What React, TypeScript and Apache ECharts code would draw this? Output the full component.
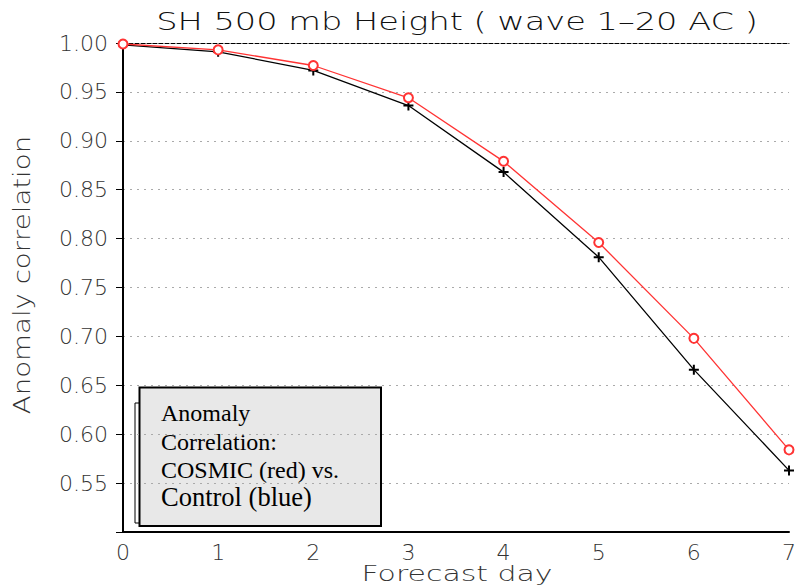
import React, { useEffect, useRef } from "react";
import * as echarts from "echarts";

const days = [0, 1, 2, 3, 4, 5, 6, 7];
const cosmic = [0.999, 0.993, 0.977, 0.944, 0.879, 0.796, 0.698, 0.584];
const control = [0.998, 0.991, 0.972, 0.936, 0.868, 0.781, 0.666, 0.563];
const titleText = "SH 500 mb Height ( wave 1–20 AC )";
const xName = "Forecast day";
const yName = "Anomaly correlation";
const noteLines = ["Anomaly", "Correlation:", "COSMIC (red) vs.", "Control (blue)"];

const FONT = "DejaVu Sans";
const PLUS = "path://M4,0H6V4H10V6H6V10H4V6H0V4H4Z";

export default function App() {
  const ref = useRef<HTMLDivElement>(null);
  useEffect(() => {
    if (!ref.current) return;
    const chart = echarts.init(ref.current, null, { renderer: "svg" });
    const noteY = [413, 441.5, 469.5, 497];
    const noteSize = [24, 24, 24, 26.5];
    chart.setOption({
      animation: false,
      backgroundColor: "#fff",
      grid: { left: 123, right: 1, top: 43, bottom: 54, containLabel: false },
      xAxis: [
        {
          type: "value",
          min: 0,
          max: 7,
          interval: 1,
          axisLine: { show: true, lineStyle: { color: "#000", width: 2 } },
          axisTick: { show: false },
          axisLabel: { fontSize: 22, color: "#333", margin: 9, fontFamily: FONT, fontWeight: 200 },
          splitLine: { show: false },
        },
        {
          type: "value",
          position: "top",
          min: 0,
          max: 7,
          interval: 1,
          axisLine: { show: true, lineStyle: { color: "#000", width: 1, type: [4, 2] } },
          axisTick: { show: false },
          axisLabel: { show: false },
          splitLine: { show: false },
        },
      ],
      yAxis: [
        {
          type: "value",
          min: 0.5,
          max: 1,
          interval: 0.05,
          axisLine: { show: true, lineStyle: { color: "#000", width: 2 } },
          axisTick: { show: true, length: 7, lineStyle: { color: "#000", width: 1 } },
          axisLabel: {
            fontSize: 22,
            color: "#333",
            margin: 15,
            fontFamily: FONT,
            fontWeight: 200,
            formatter: (v: number) => (v < 0.52 ? "" : v.toFixed(2)),
          },
          splitLine: { show: true, lineStyle: { color: "#aaa", width: 1, type: [2, 5] } },
        },
        {
          type: "value",
          position: "right",
          min: 0.5,
          max: 1,
          interval: 0.05,
          axisLine: { show: true, lineStyle: { color: "#000", width: 1 } },
          axisTick: { show: false },
          axisLabel: { show: false },
          splitLine: { show: false },
        },
      ],
      series: [
        {
          type: "line",
          data: days.map((d, i) => [d, control[i]]),
          symbol: PLUS,
          symbolSize: 10,
          clip: false,
          lineStyle: { color: "#000", width: 1.3 },
          itemStyle: { color: "#000" },
        },
        {
          type: "line",
          data: days.map((d, i) => [d, cosmic[i]]),
          symbol: "emptyCircle",
          symbolSize: 9,
          clip: false,
          lineStyle: { color: "#ff3333", width: 1.3 },
          itemStyle: { color: "#ff3333", borderWidth: 1.5 },
        },
      ],
      graphic: [
        {
          type: "text",
          x: 457,
          y: 22,
          scaleX: 1.4,
          style: {
            text: titleText,
            fontSize: 24,
            fontFamily: FONT,
            fontWeight: 200,
            fill: "#111",
            textAlign: "center",
            textVerticalAlign: "middle",
          },
        },
        {
          type: "text",
          x: 457,
          y: 573,
          scaleX: 1.36,
          style: {
            text: xName,
            fontSize: 22,
            fontFamily: FONT,
            fontWeight: 200,
            fill: "#333",
            textAlign: "center",
            textVerticalAlign: "middle",
          },
        },
        {
          type: "text",
          x: 22,
          y: 275,
          rotation: Math.PI / 2,
          scaleX: 1.2,
          style: {
            text: yName,
            fontSize: 23,
            fontFamily: FONT,
            fontWeight: 200,
            fill: "#333",
            textAlign: "center",
            textVerticalAlign: "middle",
          },
        },
        {
          type: "rect",
          shape: { x: 135, y: 403, width: 6, height: 120 },
          style: { fill: "#fff", stroke: "#000", lineWidth: 1 },
        },
        {
          type: "rect",
          shape: { x: 139.5, y: 387.5, width: 241.5, height: 138.5 },
          style: { fill: "#e8e8e8", stroke: "#000", lineWidth: 2 },
        },
        ...noteLines.map((t, i) => ({
          type: "text",
          x: 161,
          y: noteY[i],
          style: {
            text: t,
            fontSize: noteSize[i],
            fontFamily: "Liberation Serif",
            fill: "#000",
            textAlign: "left",
            textVerticalAlign: "middle",
          },
        })),
      ],
    });
    return () => chart.dispose();
  }, []);
  return (
    <div
      ref={ref}
      style={{ position: "fixed", left: 0, top: 0, width: 799, height: 586, background: "#fff" }}
    />
  );
}
